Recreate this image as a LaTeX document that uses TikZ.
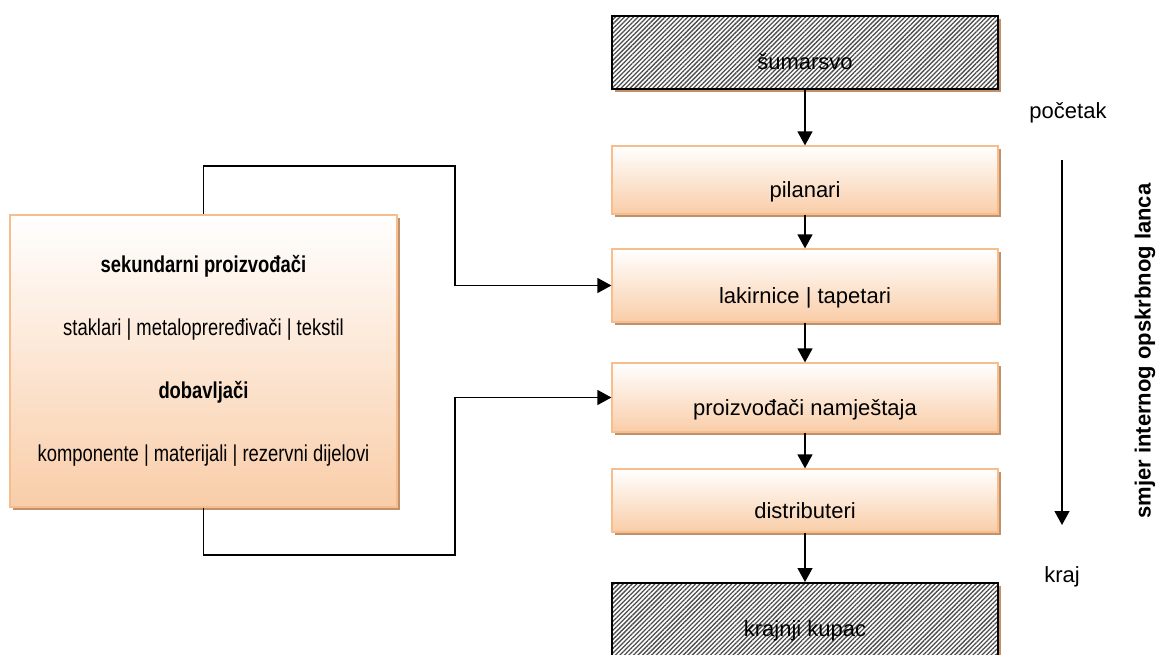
\documentclass[tikz,border=0pt]{standalone}
\usepackage{fontspec}
\setmainfont{Liberation Sans}
\newfontfamily\uska{Liberation Sans}[FakeStretch=0.8]
\usetikzlibrary{arrows.meta,patterns.meta,shadows}
\definecolor{rub}{HTML}{F8BD8C}
\definecolor{dno}{HTML}{F9CDA8}
\definecolor{sjena}{HTML}{C0916A}
\begin{document}
\begin{tikzpicture}[x=1pt,y=-1pt,font=\fontsize{22}{26}\selectfont]
  \tikzstyle{stepbox}=[draw=rub,line width=1.2pt,drop shadow={shadow xshift=3pt,shadow yshift=-3pt,fill=sjena,opacity=1},top color=white,bottom color=dno,minimum width=386pt,text height=36pt,text depth=0pt,inner sep=0pt]
  \tikzstyle{endbox}=[draw=black,line width=2pt,drop shadow={shadow xshift=3pt,shadow yshift=-3pt,fill=sjena,opacity=1},preaction={fill=white},pattern={Lines[angle=45,distance=3.2pt,line width=1.3pt]},pattern color=black!70,minimum width=386pt,text height=34pt,text depth=0pt,inner sep=0pt]
  \tikzstyle{sidebox}=[draw=rub,line width=1.2pt,drop shadow={shadow xshift=3pt,shadow yshift=-3pt,fill=sjena,opacity=1},top color=white,bottom color=dno,minimum width=387pt,minimum height=292pt,align=center,font=\uska\fontsize{23}{28}\selectfont]
  \tikzstyle{arr}=[-{Triangle[width=15pt,length=14pt]},line width=1.3pt]
  \useasboundingbox (0,0) rectangle (1159,655);

  % Lanac
  \node[endbox,minimum height=73pt] (sum) at (805,52.5) {šumarsvo};
  \node[stepbox,minimum height=68pt] (pil) at (805,180) {pilanari};
  \node[stepbox,minimum height=73pt] (lak) at (805,285.5) {lakirnice | tapetari};
  \node[stepbox,minimum height=69pt] (pro) at (805,397.5) {proizvođači namještaja};
  \node[stepbox,minimum height=63pt] (dis) at (805,500.5) {distributeri};
  \node[endbox,minimum height=73pt] (kup) at (805,619.5) {krajnji kupac};
  \draw[arr] (sum) -- (pil);
  \draw[arr] (pil) -- (lak);
  \draw[arr] (lak) -- (pro);
  \draw[arr] (pro) -- (dis);
  \draw[arr] (dis) -- (kup);

  % Dobavljaci
  \node[sidebox] (dob) at (203.5,361) {\textbf{sekundarni proizvođači}\\[35pt]
    staklari | metalopreređivači | tekstil\\[35pt]
    \textbf{dobavljači}\\[35pt]
    komponente | materijali | rezervni dijelovi};
  \coordinate (c1) at (455,166);
  \coordinate (c2) at (455,555);
  \draw[arr] (dob.north) |- (c1) |- (lak.west);
  \draw[arr] (dob.south) |- (c2) |- (pro.west);

  % Smjer
  \node (poc) at (1068,113) {početak};
  \node (kraj) at (1062,577) {kraj};
  \coordinate (smA) at (1062,160);
  \coordinate (smB) at (1062,525);
  \draw[arr] (smA) -- (smB);
  \node[rotate=90] (smjer) at (1145,351) {\textbf{smjer internog opskrbnog lanca}};

\end{tikzpicture}
\end{document}
